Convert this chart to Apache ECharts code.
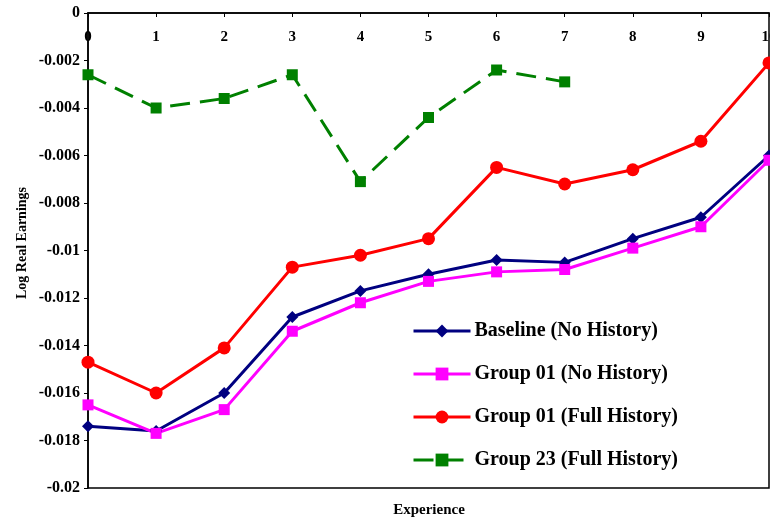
<!DOCTYPE html>
<html>
<head>
<meta charset="utf-8">
<script src="https://cdn.jsdelivr.net/npm/echarts@6/dist/echarts.min.js"></script>
<style>html,body{margin:0;padding:0;background:#fff}#c{width:770px;height:521px}</style>
</head>
<body>
<div id="c"></div>
<script>
var experience = [0, 1, 2, 3, 4, 5, 6, 7, 8, 9, 10];
var baseline = [-0.0174, -0.0176, -0.0160, -0.0128, -0.0117, -0.0110, -0.0104, -0.0105, -0.0095, -0.0086, -0.0060];
var group01No = [-0.0165, -0.0177, -0.0167, -0.0134, -0.0122, -0.0113, -0.0109, -0.0108, -0.0099, -0.0090, -0.0062];
var group01Full = [-0.0147, -0.0160, -0.0141, -0.0107, -0.0102, -0.0095, -0.0065, -0.0072, -0.0066, -0.0054, -0.0021];
var group23Full = [-0.0026, -0.0040, -0.0036, -0.0026, -0.0071, -0.0044, -0.0024, -0.0029];
var seriesNames = ['Baseline (No History)', 'Group 01 (No History)', 'Group 01 (Full History)', 'Group 23 (Full History)'];
var xTitle = 'Experience';
var yTitle = 'Log Real Earnings';

function pairs(vals) { return vals.map(function (v, i) { return [experience[i], v]; }); }

var FONT = '"Liberation Serif", "Times New Roman", serif';
var chart = echarts.init(document.getElementById('c'), null, { renderer: 'canvas' });
chart.setOption({
  animation: false,
  backgroundColor: '#fff',
  grid: { left: 88, top: 13, right: 1, bottom: 33, outerBoundsMode: 'none', containLabel: false,
          show: true, borderColor: '#000', borderWidth: 1.5, backgroundColor: 'transparent' },
  graphic: [
    { type: 'text', x: 429, y: 503, style: { text: xTitle, align: 'center', verticalAlign: 'top',
      font: 'bold 15px ' + FONT, fill: '#000' }, z: 10 },
    { type: 'text', x: 22, y: 243, rotation: Math.PI / 2, style: { text: yTitle, align: 'center', verticalAlign: 'middle',
      font: 'bold 14px ' + FONT, fill: '#000' }, z: 10 }
  ],
  legend: {
    orient: 'vertical', left: 407, top: 316, itemWidth: 57, itemHeight: 16, itemGap: 23,
    data: seriesNames,
    lineStyle: { width: 3 },
    textStyle: { fontFamily: FONT, fontWeight: 'bold', fontSize: 20, color: '#000', padding: [0, 0, 0, -1] }
  },
  xAxis: {
    type: 'value', position: 'top', min: 0, max: 10, interval: 1,
    axisLine: { show: true, lineStyle: { color: '#000', width: 1.5 } },
    axisTick: { show: true, inside: true, length: 4, lineStyle: { color: '#000' } },
    axisLabel: { inside: true, margin: 17, fontFamily: FONT, fontWeight: 'bold', fontSize: 15, color: '#000',
                 hideOverlap: false, showMinLabel: true, showMaxLabel: true },
    splitLine: { show: false }
  },
  yAxis: {
    type: 'value', min: -0.02, max: 0, interval: 0.002,
    axisLine: { show: true, lineStyle: { color: '#000', width: 1.5 } },
    axisTick: { show: true, length: 4, lineStyle: { color: '#000' } },
    axisLabel: {
      margin: 8, fontFamily: FONT, fontWeight: 'bold', fontSize: 16, color: '#000',
      formatter: function (v) { return String(parseFloat(v.toFixed(3))); }
    },
    splitLine: { show: false }
  },
  series: [
    { name: seriesNames[0], type: 'line', data: pairs(baseline), symbol: 'diamond', symbolSize: 12,
      lineStyle: { color: '#000080', width: 3 }, itemStyle: { color: '#000080' } },
    { name: seriesNames[1], type: 'line', data: pairs(group01No), symbol: 'rect', symbolSize: 11,
      lineStyle: { color: '#ff00ff', width: 3 }, itemStyle: { color: '#ff00ff' } },
    { name: seriesNames[2], type: 'line', data: pairs(group01Full), symbol: 'circle', symbolSize: 13,
      lineStyle: { color: '#ff0000', width: 3 }, itemStyle: { color: '#ff0000' } },
    { name: seriesNames[3], type: 'line', data: pairs(group23Full), symbol: 'rect', symbolSize: 11,
      lineStyle: { color: '#008000', width: 3, type: [20, 10] }, itemStyle: { color: '#008000' } }
  ]
});
</script>
</body>
</html>
